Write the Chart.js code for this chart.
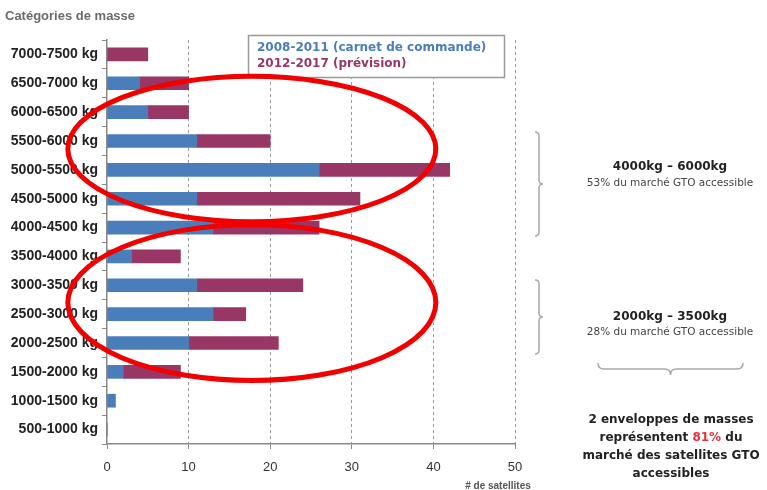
<!DOCTYPE html>
<html>
<head>
<meta charset="utf-8">
<script src="https://cdn.jsdelivr.net/npm/chart.js@4"></script>
<style>
  body { margin: 0; background: #fff; }
  #wrap { width: 767px; height: 490px; }
</style>
</head>
<body>
<div id="wrap"><canvas id="massChart"></canvas></div>
<script>
const categories = ['7000-7500 kg', '6500-7000 kg', '6000-6500 kg', '5500-6000 kg', '5000-5500 kg',
  '4500-5000 kg', '4000-4500 kg', '3500-4000 kg', '3000-3500 kg', '2500-3000 kg',
  '2000-2500 kg', '1500-2000 kg', '1000-1500 kg', '500-1000 kg'];
const seriesNames = ['2008-2011 (carnet de commande)', '2012-2017 (prévision)'];
const commandes = [0, 4, 5, 11, 26, 11, 13, 3, 11, 13, 10, 2, 1, 0];
const prevision = [5, 6, 5, 9, 16, 20, 13, 6, 13, 4, 11, 7, 0, 0];
const xTicks = [0, 10, 20, 30, 40, 50];

const BLUE = '#4a7ebb';
const MAROON = '#983765';
const FONT = '"Liberation Sans", Arial, sans-serif';
const WIDE = '"DejaVu Sans", Verdana, sans-serif';

// vertical curly brace, tip to the right
function vBrace(ctx, x, y1, y2, w) {
  const ym = (y1 + y2) / 2;
  ctx.beginPath();
  ctx.moveTo(x - w, y1);
  ctx.quadraticCurveTo(x, y1, x, y1 + w);
  ctx.lineTo(x, ym - w);
  ctx.quadraticCurveTo(x, ym, x + w, ym);
  ctx.quadraticCurveTo(x, ym, x, ym + w);
  ctx.lineTo(x, y2 - w);
  ctx.quadraticCurveTo(x, y2, x - w, y2);
  ctx.stroke();
}

// horizontal curly brace, tip downwards
function hBrace(ctx, x1, x2, y, h) {
  const xm = (x1 + x2) / 2;
  ctx.beginPath();
  ctx.moveTo(x1, y - h);
  ctx.quadraticCurveTo(x1, y, x1 + h, y);
  ctx.lineTo(xm - h, y);
  ctx.quadraticCurveTo(xm, y, xm, y + h);
  ctx.quadraticCurveTo(xm, y, xm + h, y);
  ctx.lineTo(x2 - h, y);
  ctx.quadraticCurveTo(x2, y, x2, y - h);
  ctx.stroke();
}

const overlay = {
  id: 'overlay',
  afterDraw(chart) {
    const ctx = chart.ctx;
    const xs = chart.scales.x, ys = chart.scales.y;
    ctx.save();

    // title
    ctx.fillStyle = '#6b6b6b';
    ctx.font = 'bold 13px ' + FONT;
    ctx.textAlign = 'left';
    ctx.textBaseline = 'middle';
    ctx.fillText('Catégories de masse', 5, 16);

    // axis caption
    ctx.font = 'bold 10px ' + FONT;
    ctx.fillStyle = '#555';
    ctx.textAlign = 'center';
    ctx.fillText('# de satellites', 498, 486);

    // legend box
    ctx.fillStyle = '#fff';
    ctx.fillRect(248, 35, 257, 42);
    ctx.strokeStyle = '#999';
    ctx.lineWidth = 1.5;
    ctx.strokeRect(248.5, 35.5, 256, 42);
    ctx.font = 'bold 12px ' + WIDE;
    ctx.textAlign = 'left';
    ctx.fillStyle = BLUE;
    ctx.fillText(seriesNames[0], 257, 48);
    ctx.fillStyle = MAROON;
    ctx.fillText(seriesNames[1], 257, 64);

    // red ellipses
    ctx.strokeStyle = '#f20000';
    ctx.lineWidth = 5;
    [[0.76, 5.8], [5.9, 11.3]].forEach(([a, b]) => {
      const x1 = xs.getPixelForValue(-4.8), x2 = xs.getPixelForValue(40.3);
      const y1 = ys.getPixelForValue(a), y2 = ys.getPixelForValue(b);
      ctx.beginPath();
      ctx.ellipse((x1 + x2) / 2, (y1 + y2) / 2, (x2 - x1) / 2, (y2 - y1) / 2, 0, 0, Math.PI * 2);
      ctx.stroke();
    });

    // braces
    ctx.strokeStyle = '#a8a8a8';
    ctx.lineWidth = 1.5;
    vBrace(ctx, 539, 132, 236, 4);
    vBrace(ctx, 539, 280, 354, 4);
    hBrace(ctx, 598, 743, 369, 6);

    // annotations
    ctx.textAlign = 'center';
    ctx.fillStyle = '#222';
    ctx.font = 'bold 12px ' + WIDE;
    ctx.fillText('4000kg – 6000kg', 670, 167);
    ctx.fillText('2000kg – 3500kg', 670, 317);
    ctx.font = '10.5px ' + WIDE;
    ctx.fillStyle = '#444';
    ctx.fillText('53% du marché GTO accessible', 670, 183);
    ctx.fillText('28% du marché GTO accessible', 670, 332);

    ctx.font = 'bold 12px ' + WIDE;
    ctx.fillStyle = '#222';
    ctx.fillText('2 enveloppes de masses', 671, 420);
    ctx.fillText('marché des satellites GTO', 671, 456);
    ctx.fillText('accessibles', 671, 474);
    // mixed colour line
    const p1 = 'représentent ', p2 = '81%', p3 = ' du';
    const w1 = ctx.measureText(p1).width, w2 = ctx.measureText(p2).width, w3 = ctx.measureText(p3).width;
    let sx = 671 - (w1 + w2 + w3) / 2;
    ctx.textAlign = 'left';
    ctx.fillText(p1, sx, 438);
    ctx.fillStyle = '#e8303a';
    ctx.fillText(p2, sx + w1, 438);
    ctx.fillStyle = '#222';
    ctx.fillText(p3, sx + w1 + w2, 438);

    ctx.restore();
  }
};

new Chart(document.getElementById('massChart'), {
  type: 'bar',
  data: {
    labels: categories,
    datasets: [
      { label: seriesNames[0], data: commandes, backgroundColor: BLUE, barThickness: 13 },
      { label: seriesNames[1], data: prevision, backgroundColor: MAROON, barThickness: 13 }
    ]
  },
  options: {
    indexAxis: 'y',
    responsive: true,
    maintainAspectRatio: false,
    animation: false,
    layout: { padding: { top: 40, right: 252, left: 0, bottom: 0 } },
    plugins: { legend: { display: false }, tooltip: { enabled: false } },
    scales: {
      x: {
        stacked: true,
        min: 0,
        max: 50,
        afterBuildTicks: s => { s.ticks = xTicks.map(v => ({ value: v })); },
        afterFit: s => { s.height = 46; },
        grid: {
          color: c => (c.tick && c.tick.value === 0) ? 'rgba(0,0,0,0)' : '#9a9a9a',
          tickColor: '#888',
          tickLength: 5,
          tickBorderDash: [],
          lineWidth: 1
        },
        border: { display: true, color: '#888', width: 1.5, dash: [3, 3] },
        ticks: { color: '#333', font: { family: FONT, size: 13 }, padding: 11 }
      },
      y: {
        stacked: true,
        afterFit: s => { s.width = 107; },
        grid: { drawOnChartArea: false, tickLength: 5, tickColor: '#888', offset: true },
        border: { display: true, color: '#888', width: 1.5 },
        ticks: { color: '#222', font: { family: FONT, size: 14, weight: 'bold' }, padding: 4 }
      }
    }
  },
  plugins: [overlay]
});
</script>
</body>
</html>
